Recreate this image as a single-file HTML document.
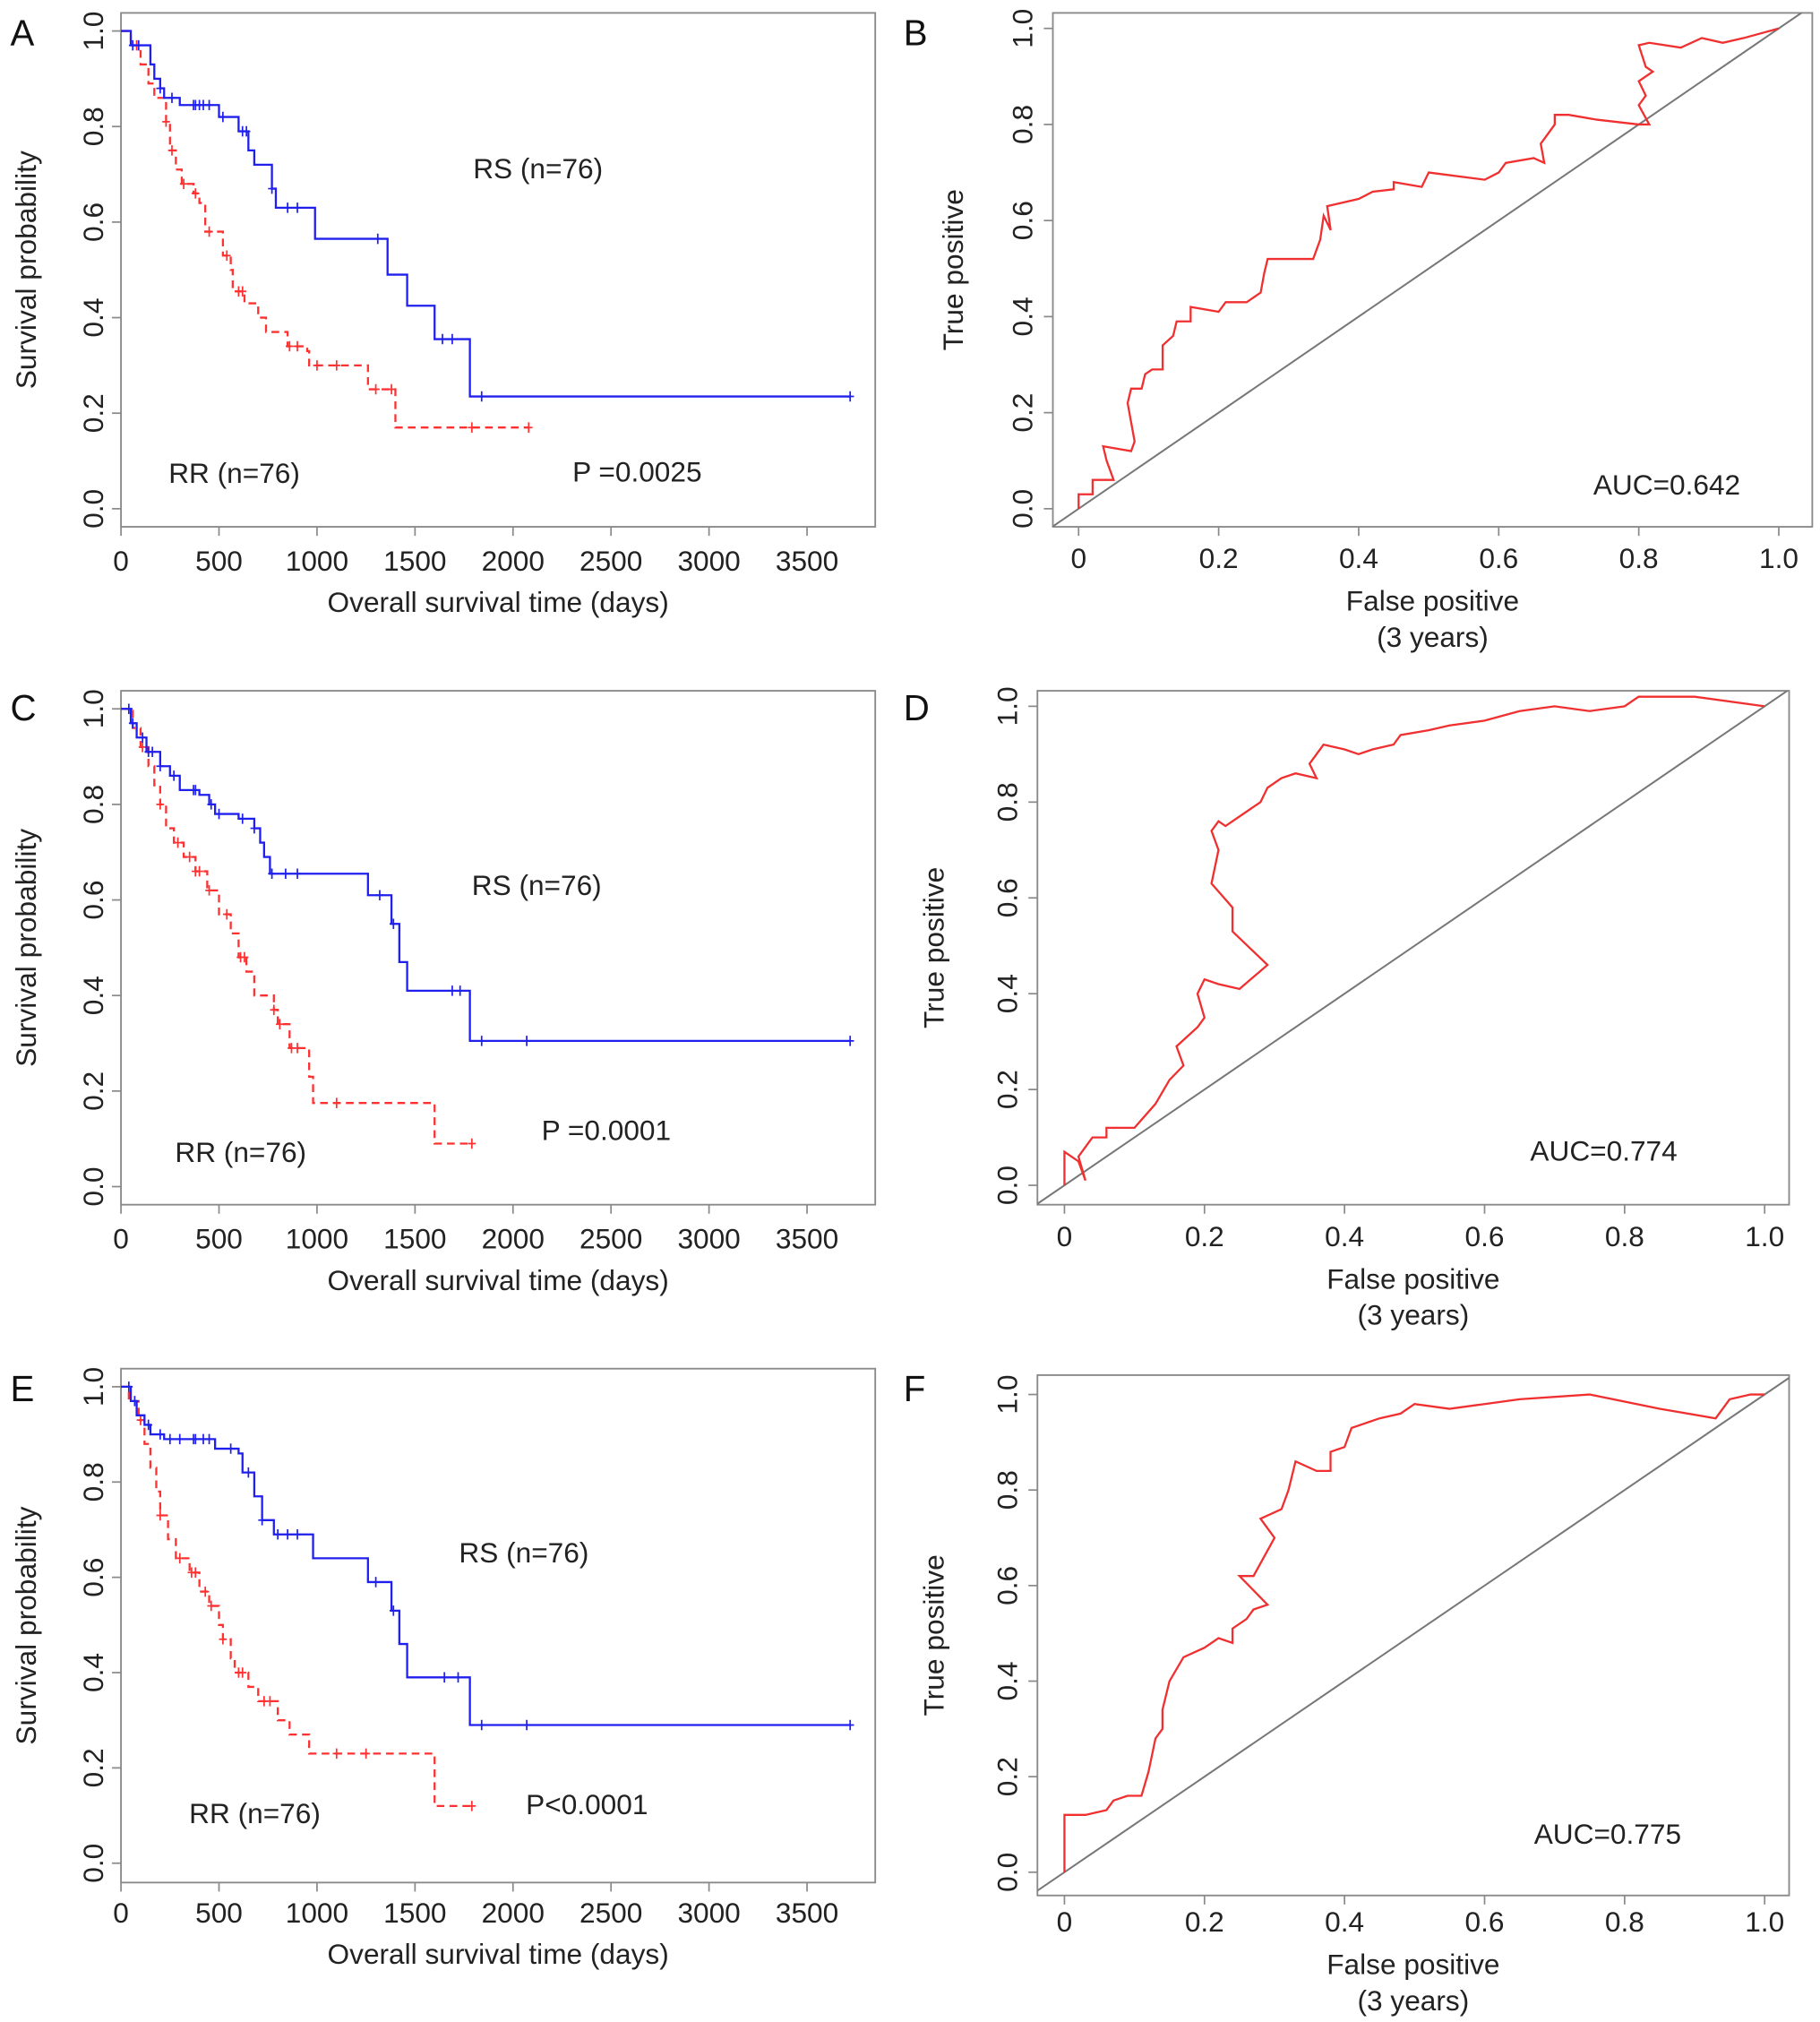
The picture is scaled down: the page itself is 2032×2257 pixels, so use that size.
<!DOCTYPE html>
<html><head><meta charset="utf-8"><style>
html,body{margin:0;padding:0;background:#fff;}
svg{display:block;font-family:"Liberation Sans",Arial,sans-serif;}
</style></head><body>
<svg id="fig" width="2032" height="2257" viewBox="0 0 1414 1566" preserveAspectRatio="none" xmlns="http://www.w3.org/2000/svg"></svg>
<script>
// ---- Data ----
const kmTickLabels = ["0","500","1000","1500","2000","2500","3000","3500"];
const kmTickVals = [0,500,1000,1500,2000,2500,3000,3500];
const yTickLabels = ["0.0","0.2","0.4","0.6","0.8","1.0"];
const yTickVals = [0,0.2,0.4,0.6,0.8,1.0];
const rocTickLabels = ["0","0.2","0.4","0.6","0.8","1.0"];
const rocTickVals = [0,0.2,0.4,0.6,0.8,1.0];

const aRsT = [0,50,150,170,200,220,300,500,600,650,680,770,790,990,1360,1460,1600,1780,3720];
const aRsS = [1,0.97,0.93,0.90,0.88,0.86,0.845,0.82,0.79,0.75,0.72,0.67,0.63,0.565,0.49,0.425,0.355,0.235,0.235];
const aRsC = [60,90,200,260,370,380,400,420,450,520,620,640,770,850,900,1310,1640,1690,1840,3720];
const aRrT = [0,50,100,140,170,230,250,280,310,370,400,430,520,560,570,630,700,740,850,950,960,1260,1400,2080];
const aRrS = [1,0.97,0.93,0.89,0.86,0.81,0.75,0.71,0.68,0.66,0.64,0.58,0.53,0.50,0.455,0.43,0.40,0.37,0.34,0.33,0.30,0.25,0.17,0.17];
const aRrC = [80,230,260,320,380,450,540,600,620,860,900,1000,1100,1300,1380,1790,2080];

const cRsT = [0,50,80,130,200,250,300,400,450,480,600,680,710,730,760,1260,1380,1420,1460,1780,3720];
const cRsS = [1,0.97,0.94,0.91,0.88,0.86,0.83,0.82,0.80,0.78,0.77,0.75,0.72,0.69,0.655,0.61,0.55,0.47,0.41,0.305,0.305];
const cRsC = [40,60,110,140,160,200,270,370,380,460,500,620,680,770,840,900,1320,1390,1690,1730,1840,2070,3720];
const cRrT = [0,60,100,140,170,200,230,270,320,380,440,500,560,600,640,680,780,800,860,960,980,1600,1790];
const cRrS = [1,0.96,0.92,0.88,0.84,0.80,0.75,0.72,0.69,0.66,0.62,0.57,0.53,0.48,0.45,0.40,0.37,0.34,0.29,0.23,0.175,0.09,0.09];
const cRrC = [110,200,290,350,380,400,450,540,610,630,780,810,870,900,1100,1790];

const eRsT = [0,50,80,120,150,220,480,600,620,680,720,780,980,1260,1380,1420,1460,1780,3720];
const eRsS = [1,0.97,0.94,0.92,0.90,0.89,0.87,0.86,0.82,0.77,0.72,0.69,0.64,0.59,0.53,0.46,0.39,0.29,0.29];
const eRsC = [40,70,140,200,250,300,370,380,420,450,560,650,720,800,850,900,1300,1390,1650,1720,1840,2070,3720];
const eRrT = [0,40,90,120,150,180,200,240,280,350,400,450,500,520,560,580,650,700,800,860,960,1600,1790];
const eRrS = [1,0.97,0.93,0.88,0.83,0.78,0.73,0.68,0.64,0.61,0.57,0.54,0.50,0.47,0.43,0.40,0.37,0.34,0.30,0.27,0.23,0.12,0.12];
const eRrC = [100,200,300,360,380,430,460,520,600,620,730,760,1100,1250,1790];

const bFpr = [0,0,0.02,0.02,0.05,0.04,0.035,0.075,0.08,0.07,0.075,0.09,0.095,0.105,0.12,0.12,0.135,0.14,0.16,0.16,0.2,0.21,0.24,0.26,0.265,0.27,0.29,0.335,0.345,0.35,0.36,0.355,0.4,0.42,0.45,0.45,0.49,0.5,0.58,0.6,0.61,0.65,0.665,0.66,0.68,0.68,0.7,0.74,0.8,0.815,0.8,0.81,0.8,0.82,0.81,0.8,0.815,0.86,0.89,0.92,0.95,1];
const bTpr = [0,0.03,0.03,0.06,0.06,0.10,0.13,0.12,0.14,0.22,0.25,0.25,0.28,0.29,0.29,0.34,0.36,0.39,0.39,0.42,0.41,0.43,0.43,0.45,0.49,0.52,0.52,0.52,0.56,0.61,0.58,0.63,0.645,0.66,0.665,0.68,0.67,0.70,0.685,0.70,0.72,0.73,0.72,0.76,0.80,0.82,0.82,0.81,0.80,0.80,0.84,0.86,0.89,0.91,0.92,0.965,0.97,0.96,0.98,0.97,0.98,1];
const dFpr = [0,0,0.02,0.03,0.02,0.04,0.06,0.06,0.1,0.13,0.15,0.17,0.16,0.19,0.2,0.19,0.2,0.22,0.25,0.29,0.24,0.24,0.21,0.22,0.21,0.22,0.23,0.26,0.28,0.29,0.31,0.33,0.36,0.35,0.37,0.4,0.42,0.44,0.47,0.48,0.52,0.55,0.6,0.65,0.7,0.75,0.8,0.82,0.85,0.9,1];
const dTpr = [0,0.07,0.05,0.01,0.06,0.10,0.10,0.12,0.12,0.17,0.22,0.25,0.29,0.33,0.35,0.40,0.43,0.42,0.41,0.46,0.53,0.58,0.63,0.70,0.74,0.76,0.75,0.78,0.80,0.83,0.85,0.86,0.85,0.88,0.92,0.91,0.90,0.91,0.92,0.94,0.95,0.96,0.97,0.99,1.0,0.99,1.0,1.02,1.02,1.02,1.0];
const fFpr = [0,0,0.03,0.06,0.07,0.09,0.11,0.12,0.13,0.14,0.14,0.15,0.17,0.2,0.22,0.24,0.24,0.26,0.27,0.29,0.25,0.27,0.3,0.28,0.31,0.32,0.33,0.36,0.38,0.38,0.4,0.41,0.45,0.48,0.5,0.55,0.6,0.65,0.75,0.85,0.93,0.95,0.98,1];
const fTpr = [0,0.12,0.12,0.13,0.15,0.16,0.16,0.21,0.28,0.30,0.34,0.40,0.45,0.47,0.49,0.48,0.51,0.53,0.55,0.56,0.62,0.62,0.70,0.74,0.76,0.80,0.86,0.84,0.84,0.88,0.89,0.93,0.95,0.96,0.98,0.97,0.98,0.99,1.0,0.97,0.95,0.99,1.0,1.0];

// ---- Drawing ----
const NS="http://www.w3.org/2000/svg";
const svg=document.getElementById('fig');
const FS=22;
function el(tag,attrs,parent,txt){const e=document.createElementNS(NS,tag);for(const k in attrs)e.setAttribute(k,attrs[k]);if(txt!==undefined)e.textContent=txt;(parent||svg).appendChild(e);return e;}

function panel(cfg){
  const g=el('g',{},svg);
  
  
  const sx=v=>cfg.x0+(v-cfg.xmin)*(cfg.x1-cfg.x0)/(cfg.xmax-cfg.xmin);
  const sy=v=>cfg.y0-(v)*(cfg.y0-cfg.y1);
  const box=el('rect',{x:cfg.bl,y:cfg.bt,width:cfg.br-cfg.bl,height:cfg.bb-cfg.bt,fill:'none',stroke:'#8a8a8a','stroke-width':1.3},g);
  
  const cid='clip'+cfg.letter;
  const cp=el('clipPath',{id:cid},g);el('rect',{x:cfg.bl,y:cfg.bt,width:cfg.br-cfg.bl,height:cfg.bb-cfg.bt},cp);
  cfg.xticks.forEach((v,i)=>{
    const x=sx(v);
    el('line',{x1:x,y1:cfg.bb,x2:x,y2:cfg.bb+7,stroke:'#8a8a8a','stroke-width':1.2},g);
    const t=el('text',{x:x,y:cfg.xlabY,'text-anchor':'middle','font-size':FS,fill:'#222'},g,cfg.xlabels[i]);
    
  });
  yTickVals.forEach((v,i)=>{
    const y=sy(v);
    el('line',{x1:cfg.bl,y1:y,x2:cfg.bl-7,y2:y,stroke:'#8a8a8a','stroke-width':1.2},g);
    const t=el('text',{x:cfg.ylabX,y:y,'text-anchor':'middle','font-size':FS,fill:'#222',transform:`rotate(-90 ${cfg.ylabX} ${y})`},g,yTickLabels[i]);
    
  });
  const cx=(cfg.bl+cfg.br)/2, cy=(cfg.bt+cfg.bb)/2;
  let t=el('text',{x:cx,y:cfg.xtitleY,'text-anchor':'middle','font-size':FS,fill:'#222'},g,cfg.xtitle);
  
  if(cfg.xsub){t=el('text',{x:cx,y:cfg.xtitleY+28,'text-anchor':'middle','font-size':FS,fill:'#222'},g,cfg.xsub);
    }
  t=el('text',{x:cfg.ytitleX,y:cy,'text-anchor':'middle','font-size':FS,fill:'#222',transform:`rotate(-90 ${cfg.ytitleX} ${cy})`},g,cfg.ytitle);
  
  t=el('text',{x:cfg.lx,y:cfg.ly,'font-size':28,fill:'#111'},g,cfg.letter);
  
  (cfg.notes||[]).forEach(n=>{const tt=el('text',{x:n[1],y:n[2],'text-anchor':'middle','font-size':FS,fill:'#222'},g,n[0]);
    });
  return {g,sx,sy,cid};
}

function km(p,T,S,C,color,dash,name){
  let d=`M${p.sx(T[0])},${p.sy(S[0])}`;
  for(let i=1;i<T.length;i++){d+=` H${p.sx(T[i])} V${p.sy(S[i])}`;}
  const path=el('path',{d:d,fill:'none',stroke:color,'stroke-width':1.6,'stroke-dasharray':dash||'none'},p.g);
  
  C.forEach(c=>{
    let s=S[0];for(let i=0;i<T.length;i++){if(T[i]<=c)s=S[i];}
    const x=p.sx(c),y=p.sy(s);
    const m=el('path',{d:`M${x},${y-4} V${y+4} M${x-3},${y} H${x+3}`,stroke:color,'stroke-width':1.2,fill:'none'},p.g);
    
  });
}
function roc(p,X,Y,name){
  const diag=el('line',{x1:p.sx(-0.2),y1:p.sy(-0.2),x2:p.sx(1.2),y2:p.sy(1.2),stroke:'#777','stroke-width':1.4,'clip-path':`url(#${p.cid})`},p.g);
  
  const pts=X.map((x,i)=>`${p.sx(x)},${p.sy(Y[i])}`).join(' ');
  const pl=el('polyline',{points:pts,fill:'none',stroke:'#f03030','stroke-width':1.6},p.g);
  
}

const kmBase={xmin:0,xmax:3500,x0:94,x1:627,bl:94,br:680,xticks:kmTickVals,xlabels:kmTickLabels,ylabX:80,ytitleX:28,xtitle:'Overall survival time (days)',ytitle:'Survival probability',lx:8};
const pA=panel(Object.assign({},kmBase,{name:'panel-a-km',letter:'A',ly:35,bt:10,bb:408,y0:394,y1:24,xlabY:442,xtitleY:474,
  notes:[['RS (n=76)',418,138,'rs-label'],['RR (n=76)',182,374,'rr-label'],['P =0.0025',495,373,'p-value']]}));
km(pA,aRrT,aRrS,aRrC,'#ff3030','6,4','rr');km(pA,aRsT,aRsS,aRsC,'#2020ee',null,'rs');
const pC=panel(Object.assign({},kmBase,{name:'panel-c-km',letter:'C',ly:558,bt:535,bb:933,y0:919,y1:549,xlabY:967,xtitleY:999,
  notes:[['RS (n=76)',417,693,'rs-label'],['RR (n=76)',187,900,'rr-label'],['P =0.0001',471,883,'p-value']]}));
km(pC,cRrT,cRrS,cRrC,'#ff3030','6,4','rr');km(pC,cRsT,cRsS,cRsC,'#2020ee',null,'rs');
const pE=panel(Object.assign({},kmBase,{name:'panel-e-km',letter:'E',ly:1085,bt:1060,bb:1458,y0:1443,y1:1074,xlabY:1489,xtitleY:1521,
  notes:[['RS (n=76)',407,1210,'rs-label'],['RR (n=76)',198,1412,'rr-label'],['P<0.0001',456,1405,'p-value']]}));
km(pE,eRrT,eRrS,eRrC,'#ff3030','6,4','rr');km(pE,eRsT,eRsS,eRsC,'#2020ee',null,'rs');

const rocBase={xmin:0,xmax:1,xticks:rocTickVals,xlabels:rocTickLabels,xtitle:'False positive',xsub:'(3 years)',ytitle:'True positive',lx:702};
const pB=panel(Object.assign({},rocBase,{name:'panel-b-roc',letter:'B',ly:35,x0:838,x1:1382,bl:818,br:1408,bt:10,bb:408,y0:394,y1:22,ylabX:802,ytitleX:748,xlabY:440,xtitleY:473,
  notes:[['AUC=0.642',1295,383,'auc-label']]}));
roc(pB,bFpr,bTpr,'roc-curve');
const pD=panel(Object.assign({},rocBase,{name:'panel-d-roc',letter:'D',ly:558,x0:827,x1:1371,bl:806,br:1390,bt:535,bb:933,y0:918,y1:547,ylabX:790,ytitleX:733,xlabY:965,xtitleY:998,
  notes:[['AUC=0.774',1246,899,'auc-label']]}));
roc(pD,dFpr,dTpr,'roc-curve');
const pF=panel(Object.assign({},rocBase,{name:'panel-f-roc',letter:'F',ly:1085,x0:827,x1:1371,bl:806,br:1390,bt:1065,bb:1468,y0:1450,y1:1080,ylabX:790,ytitleX:733,xlabY:1496,xtitleY:1529,
  notes:[['AUC=0.775',1249,1428,'auc-label']]}));
roc(pF,fFpr,fTpr,'roc-curve');
</script>
</body></html>
